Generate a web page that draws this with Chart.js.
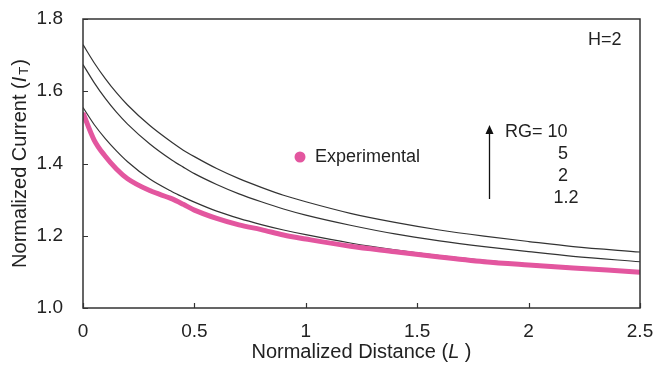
<!DOCTYPE html>
<html>
<head>
<meta charset="utf-8">
<script src="https://cdn.jsdelivr.net/npm/chart.js"></script>
<style>
  html, body { margin: 0; padding: 0; background: #fff; }
  #wrap { width: 655px; height: 368px; }
</style>
</head>
<body>
<div id="wrap"><canvas id="chart" width="655" height="368"></canvas></div>
<script>
// normalized distance L
const distances = [0, 0.05, 0.1, 0.15, 0.2, 0.3, 0.4, 0.45, 0.5, 0.6, 0.7, 0.8, 0.9, 1.0, 1.2, 1.4, 1.6, 1.8, 2.0, 2.2, 2.5];

// theory curves, one per RG
const rg10 = [1.729, 1.679, 1.635, 1.596, 1.562, 1.505, 1.458, 1.437, 1.419, 1.386, 1.358, 1.334, 1.312, 1.294, 1.262, 1.237, 1.216, 1.199, 1.184, 1.170, 1.155];
const rg5 = [1.674, 1.624, 1.580, 1.542, 1.509, 1.454, 1.409, 1.390, 1.372, 1.342, 1.316, 1.294, 1.274, 1.257, 1.229, 1.205, 1.186, 1.170, 1.156, 1.143, 1.128];
const rg2 = [1.555, 1.508, 1.469, 1.435, 1.405, 1.357, 1.322, 1.307, 1.293, 1.268, 1.248, 1.231, 1.216, 1.203, 1.180, 1.161, 1.145, 1.132, 1.122, 1.114, 1.102];
const rg12 = [1.541, 1.468, 1.423, 1.388, 1.361, 1.328, 1.304, 1.289, 1.273, 1.250, 1.232, 1.219, 1.203, 1.192, 1.172, 1.157, 1.142, 1.129, 1.120, 1.112, 1.100];

// experimental curve
const experimental = [1.540, 1.465, 1.420, 1.385, 1.358, 1.325, 1.302, 1.287, 1.271, 1.248, 1.230, 1.217, 1.202, 1.191, 1.171, 1.156, 1.141, 1.128, 1.119, 1.111, 1.099];

const rgLabels = ["RG= 10", "5", "2", "1.2"];
const xTicks = [0, 0.5, 1, 1.5, 2, 2.5];
const yTicks = [1.0, 1.2, 1.4, 1.6, 1.8];

const FONT = "'Liberation Sans', Arial, sans-serif";
const PINK = "#e3569f";
const INK = "#222";

const toPoints = (ys) => distances.map((x, i) => ({ x: x, y: ys[i] }));

function theoryLine(label, ys) {
  return {
    label: label,
    data: toPoints(ys),
    borderColor: "#333",
    borderWidth: 1.2,
    pointRadius: 0,
    cubicInterpolationMode: "monotone",
    order: 2,
  };
}

// frame, inward ticks, titles and notes
const decorPlugin = {
  id: "decor",
  afterDraw(chart) {
    const ctx = chart.ctx;
    const a = chart.chartArea;
    const xs = chart.scales.x;
    const ys = chart.scales.y;
    ctx.save();

    ctx.strokeStyle = "#333";
    ctx.lineWidth = 1.5;
    ctx.strokeRect(a.left, a.top, a.right - a.left, a.bottom - a.top);

    ctx.lineWidth = 1.2;
    ctx.beginPath();
    xTicks.forEach((v) => {
      const px = Math.round(xs.getPixelForValue(v)) + 0.5;
      ctx.moveTo(px, a.bottom);
      ctx.lineTo(px, a.bottom - 5);
    });
    yTicks.forEach((v) => {
      const py = Math.round(ys.getPixelForValue(v)) + 0.5;
      ctx.moveTo(a.left, py);
      ctx.lineTo(a.left + 5, py);
    });
    ctx.stroke();

    ctx.fillStyle = INK;
    ctx.textBaseline = "middle";

    // x title
    const xt1 = "Normalized Distance (";
    const xt2 = "L";
    const xt3 = " )";
    ctx.font = "20px " + FONT;
    const w1 = ctx.measureText(xt1).width;
    const w3 = ctx.measureText(xt3).width;
    ctx.font = "italic 20px " + FONT;
    const w2 = ctx.measureText(xt2).width;
    let sx = (a.left + a.right) / 2 - (w1 + w2 + w3) / 2;
    const ty = 352;
    ctx.textAlign = "left";
    ctx.font = "20px " + FONT;
    ctx.fillText(xt1, sx, ty);
    ctx.font = "italic 20px " + FONT;
    ctx.fillText(xt2, sx + w1, ty);
    ctx.font = "20px " + FONT;
    ctx.fillText(xt3, sx + w1 + w2, ty);

    // y title, rotated
    ctx.save();
    ctx.translate(20, (a.top + a.bottom) / 2);
    ctx.rotate(-Math.PI / 2);
    const yt1 = "Normalized Current (";
    const yt2 = "I";
    const yt3 = "T";
    const yt4 = ")";
    ctx.font = "20px " + FONT;
    const v1 = ctx.measureText(yt1).width;
    const v4 = ctx.measureText(yt4).width;
    ctx.font = "italic 20px " + FONT;
    const v2 = ctx.measureText(yt2).width + 2;
    ctx.font = "13px " + FONT;
    const v3 = ctx.measureText(yt3).width + 1;
    let s = -(v1 + v2 + v3 + v4) / 2;
    ctx.font = "20px " + FONT;
    ctx.fillText(yt1, s, 0);
    ctx.font = "italic 20px " + FONT;
    ctx.fillText(yt2, s + v1, 0);
    ctx.font = "13px " + FONT;
    ctx.fillText(yt3, s + v1 + v2, 4);
    ctx.font = "20px " + FONT;
    ctx.fillText(yt4, s + v1 + v2 + v3, 0);
    ctx.restore();

    // legend
    ctx.fillStyle = PINK;
    ctx.beginPath();
    ctx.arc(300, 157, 5.5, 0, Math.PI * 2);
    ctx.fill();
    ctx.fillStyle = INK;
    ctx.font = "18px " + FONT;
    ctx.textAlign = "left";
    ctx.fillText("Experimental", 315, 157);

    ctx.fillText("H=2", 588, 40);

    // RG note with arrow
    ctx.fillText(rgLabels[0], 505, 132);
    ctx.textAlign = "center";
    ctx.fillText(rgLabels[1], 563, 154);
    ctx.fillText(rgLabels[2], 563, 176);
    ctx.fillText(rgLabels[3], 566, 198);

    ctx.strokeStyle = "#111";
    ctx.lineWidth = 1.3;
    ctx.beginPath();
    ctx.moveTo(489.5, 199);
    ctx.lineTo(489.5, 132);
    ctx.stroke();
    ctx.fillStyle = "#111";
    ctx.beginPath();
    ctx.moveTo(489.5, 125);
    ctx.lineTo(485.5, 134);
    ctx.lineTo(493.5, 134);
    ctx.closePath();
    ctx.fill();

    ctx.restore();
  },
};

new Chart(document.getElementById("chart"), {
  type: "line",
  data: {
    datasets: [
      theoryLine("RG=10", rg10),
      theoryLine("RG=5", rg5),
      theoryLine("RG=2", rg2),
      theoryLine("RG=1.2", rg12),
      {
        label: "Experimental",
        data: toPoints(experimental),
        borderColor: PINK,
        borderWidth: 5,
        pointRadius: 0,
        cubicInterpolationMode: "monotone",
        order: 1,
      },
    ],
  },
  options: {
    responsive: false,
    animation: false,
    layout: { padding: { left: 0, right: 15, top: 19, bottom: 0 } },
    plugins: {
      legend: { display: false },
      tooltip: { enabled: false },
    },
    scales: {
      x: {
        type: "linear",
        min: 0,
        max: 2.5,
        grid: { display: false, drawTicks: false },
        border: { display: false },
        afterFit: (s) => { s.height = 60; s.paddingRight = 0; s.paddingLeft = 0; },
        afterBuildTicks: (s) => { s.ticks = xTicks.map((v) => ({ value: v })); },
        ticks: {
          padding: 12,
          color: INK,
          font: { family: FONT, size: 19 },
          maxRotation: 0,
          callback: (v) => String(v),
        },
      },
      y: {
        type: "linear",
        min: 1.0,
        max: 1.8,
        grid: { display: false, drawTicks: false },
        border: { display: false },
        afterFit: (s) => { s.width = 83; s.paddingTop = 0; s.paddingBottom = 0; },
        afterBuildTicks: (s) => { s.ticks = yTicks.map((v) => ({ value: v })); },
        ticks: {
          padding: 20,
          color: INK,
          font: { family: FONT, size: 19 },
          callback: (v) => v.toFixed(1),
        },
      },
    },
  },
  plugins: [decorPlugin],
});
</script>
</body>
</html>
